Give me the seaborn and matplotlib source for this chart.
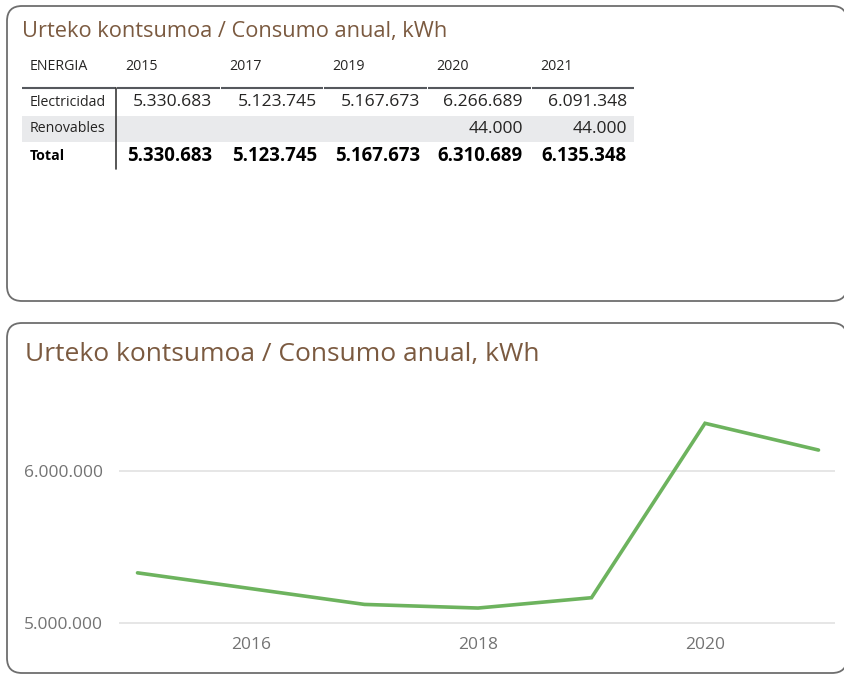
import matplotlib
matplotlib.use("Agg")
import matplotlib.pyplot as plt
from matplotlib.patches import FancyBboxPatch, Rectangle
from matplotlib.ticker import FuncFormatter
import seaborn as sns
import pandas as pd

# ---- data -------------------------------------------------------------
table_years = ["2015", "2017", "2019", "2020", "2021"]
electricidad = [5330683, 5123745, 5167673, 6266689, 6091348]
renovables = [None, None, None, 44000, 44000]
row_labels = ["Electricidad", "Renovables", "Total"]

line_years = [2015, 2017, 2018, 2019, 2020, 2021]
line_kwh = [5330683, 5123745, 5100000, 5167673, 6310689, 6135348]

title_text = "Urteko kontsumoa / Consumo anual, kWh"

# ---- style ------------------------------------------------------------
sns.set_theme(style="white")
plt.rcParams["font.family"] = ["Open Sans", "DejaVu Sans"]

TITLE_C = "#7B5A40"
TEXT_C = "#252423"
GREY_C = "#737373"
LINE_C = "#6DB35E"
BORDER_C = "#6E6E6E"

W, H = 845, 674
fig = plt.figure(figsize=(W / 100, H / 100), dpi=100)
fig.patch.set_facecolor("white")
renderer = fig.canvas.get_renderer()

# full-figure canvas in pixel units for cards and the table
bg = fig.add_axes([0, 0, 1, 1])
bg.set_xlim(0, W)
bg.set_ylim(H, 0)
bg.axis("off")


def fmt(v):
    return f"{v:,.0f}".replace(",", ".")


def size_for(s, width, **kw):
    """Font size at which string s spans `width` pixels."""
    probe = fig.text(0.5, 0.5, s, fontsize=10, **kw)
    w = probe.get_window_extent(renderer).width
    probe.remove()
    return 10 * width / w


# cards
for (x0, y0, x1, y1) in [(7, 6, 847, 301), (7, 323, 847, 673)]:
    bg.add_patch(FancyBboxPatch((x0, y0), x1 - x0, y1 - y0,
                                boxstyle="round,pad=0,rounding_size=15",
                                fc="white", ec=BORDER_C, lw=1.3, zorder=1))

# card titles
bg.text(22, 31, title_text, fontsize=size_for(title_text, 425), color=TITLE_C,
        va="center", ha="left", zorder=3)
bg.text(25, 354, title_text, fontsize=size_for(title_text, 513), color=TITLE_C,
        va="center", ha="left", zorder=3)

# ---- table ------------------------------------------------------------
col_edges = [116, 220, 323, 427, 531, 634]
val_right = [212, 317, 420, 523, 627]
row_y = [102, 129, 156]

small = size_for("Electricidad", 76)
vsize = size_for("5.330.683", 79)
bsize = size_for("5.330.683", 85, fontweight="bold")

bg.add_patch(Rectangle((22.5, 115.5), 634 - 22.5, 26.5, fc="#E9EAEC", ec="none", zorder=2))

bg.text(30, 66, "ENERGIA", fontsize=small, color=TEXT_C, va="center", ha="left", zorder=3)
for i, yr in enumerate(table_years):
    bg.text(col_edges[i] + 9, 66, yr, fontsize=small, color=TEXT_C,
            va="center", ha="left", zorder=3)

# header underline, one segment per column
segs = [(22.5, col_edges[0])] + [(col_edges[i] + 1, col_edges[i + 1]) for i in range(5)]
for a, b in segs:
    bg.plot([a, b], [87.5, 87.5], color="#55585D", lw=1.5, solid_capstyle="butt", zorder=3)
bg.plot([116.5, 116.5], [88, 169], color="#3A3A3A", lw=1.2, zorder=3)

for j, lab in enumerate(row_labels):
    bg.text(30, row_y[j], lab, fontsize=small, color=TEXT_C if j < 2 else "black",
            fontweight="bold" if j == 2 else "normal", va="center", ha="left", zorder=3)

for i in range(len(table_years)):
    e = electricidad[i]
    r = renovables[i]
    tot = e + (r or 0)
    bg.text(val_right[i], row_y[0], fmt(e), fontsize=vsize, color=TEXT_C,
            va="center", ha="right", zorder=3)
    if r is not None:
        bg.text(val_right[i], row_y[1], fmt(r), fontsize=vsize, color=TEXT_C,
                va="center", ha="right", zorder=3)
    bg.text(val_right[i], row_y[2], fmt(tot), fontsize=bsize, color="black",
            fontweight="bold", va="center", ha="right", zorder=3)

# ---- line chart -------------------------------------------------------
ax_l, ax_r, ax_t, ax_b = 119, 835, 400, 626
ax = fig.add_axes([ax_l / W, 1 - ax_b / H, (ax_r - ax_l) / W, (ax_b - ax_t) / H])
ax.set_facecolor("none")

df = pd.DataFrame({"year": line_years, "kwh": line_kwh})
sns.lineplot(data=df, x="year", y="kwh", ax=ax, color=LINE_C, linewidth=2.6,
             solid_joinstyle="miter", zorder=3)

px_year = 113.5
px_mill = 152.6
ax.set_xlim(2015 - (137.5 - ax_l) / px_year, 2021 + (ax_r - 818.5) / px_year)
ax.set_ylim(5e6 - (ax_b - 623.3) / px_mill * 1e6, 6e6 + (470.7 - ax_t) / px_mill * 1e6)

ax.set_xticks([2016, 2018, 2020])
ax.set_yticks([5e6, 6e6])
ax.yaxis.set_major_formatter(FuncFormatter(lambda v, p: fmt(v)))
ax.set_xlabel("")
ax.set_ylabel("")
for s in ax.spines.values():
    s.set_visible(False)
ax.grid(axis="y", color="#E6E6E6", lw=1.4)
ax.grid(axis="x", visible=False)

tick_size = size_for("6.000.000", 79)
ax.tick_params(axis="both", length=0, labelsize=tick_size, colors=GREY_C)
ax.tick_params(axis="y", pad=11.5)
ax.tick_params(axis="x", pad=8)

fig.savefig("out.png", dpi=100, facecolor="white")
